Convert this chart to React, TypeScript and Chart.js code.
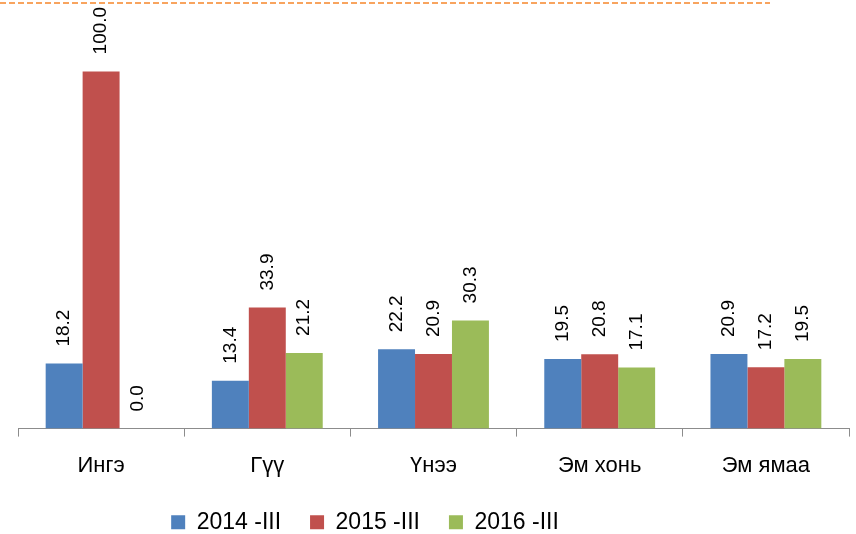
import React, { useEffect, useRef } from "react";
import { Chart, registerables } from "chart.js";

Chart.register(...registerables);

const categories = ["Ингэ", "Гүү", "Үнээ", "Эм хонь", "Эм ямаа"];
const seriesNames = ["2014 -III", "2015 -III", "2016 -III"];
const values2014 = [18.2, 13.4, 22.2, 19.5, 20.9];
const values2015 = [100.0, 33.9, 20.9, 20.8, 17.2];
const values2016 = [0.0, 21.2, 30.3, 17.1, 19.5];
const seriesColors = ["#4F81BD", "#C0504D", "#9BBB59"];

const FONT = "'Liberation Sans', Arial, sans-serif";

const decorPlugin = {
  id: "decor",
  beforeDraw(chart: any) {
    const ctx = chart.ctx;
    ctx.save();
    ctx.strokeStyle = "#F8A45E";
    ctx.lineWidth = 2;
    ctx.setLineDash([6, 3]);
    ctx.beginPath();
    ctx.moveTo(0, 3);
    ctx.lineTo(770, 3);
    ctx.stroke();
    ctx.restore();
    const lg = chart.legend;
    if (lg) {
      const shiftX = 365 - (lg.left + lg.right) / 2;
      lg.left += shiftX;
      lg.right += shiftX;
      const curCenter = lg.top + lg.options.labels.padding + 13.2;
      const dy = 524 - curCenter;
      lg.top += dy;
      lg.bottom += dy;
    }
  },
  afterDatasetsDraw(chart: any) {
    const ctx = chart.ctx;
    ctx.save();
    ctx.font = `19px ${FONT}`;
    ctx.fillStyle = "#000000";
    ctx.textAlign = "left";
    ctx.textBaseline = "middle";
    chart.data.datasets.forEach((ds: any, i: number) => {
      const meta = chart.getDatasetMeta(i);
      meta.data.forEach((bar: any, j: number) => {
        const v = ds.data[j] as number;
        ctx.save();
        ctx.translate(bar.x, bar.y - 17);
        ctx.rotate(-Math.PI / 2);
        ctx.fillText(v.toFixed(1), 0, 0);
        ctx.restore();
      });
    });
    ctx.restore();
  },
};

export default function App() {
  const ref = useRef<HTMLCanvasElement | null>(null);
  useEffect(() => {
    if (!ref.current) return;
    const allSeries = [values2014, values2015, values2016];
    const chart = new Chart(ref.current, {
      type: "bar",
      data: {
        labels: categories,
        datasets: allSeries.map((d, i) => ({
          label: seriesNames[i],
          data: d,
          backgroundColor: seriesColors[i],
          borderWidth: 0,
          categoryPercentage: 0.667,
          barPercentage: 1,
        })),
      },
      options: {
        responsive: false,
        animation: false,
        layout: { padding: { left: 18, right: 7, top: 0, bottom: -23 } },
        plugins: {
          legend: {
            position: "bottom",
            labels: {
              boxWidth: 14,
              boxHeight: 14,
              padding: 29,
              color: "#000000",
              font: { size: 23, family: FONT },
            },
          },
          tooltip: { enabled: false },
        },
        scales: {
          x: {
            grid: {
              display: true,
              drawOnChartArea: false,
              drawTicks: true,
              tickLength: 8,
              color: "#8C8C8C",
              offset: true,
            },
            border: { display: true, color: "#8C8C8C", width: 1 },
            ticks: {
              color: "#000000",
              padding: 16,
              font: { size: 22, family: FONT },
              maxRotation: 0,
            },
          },
          y: {
            display: false,
            min: 0,
            max: 120,
          },
        },
      },
      plugins: [decorPlugin],
    });
    return () => chart.destroy();
  }, []);
  return (
    <div style={{ position: "fixed", left: 0, top: 0, width: 856, height: 534, background: "#fff" }}>
      <canvas ref={ref} width={856} height={534} style={{ width: 856, height: 534, display: "block" }} />
    </div>
  );
}
